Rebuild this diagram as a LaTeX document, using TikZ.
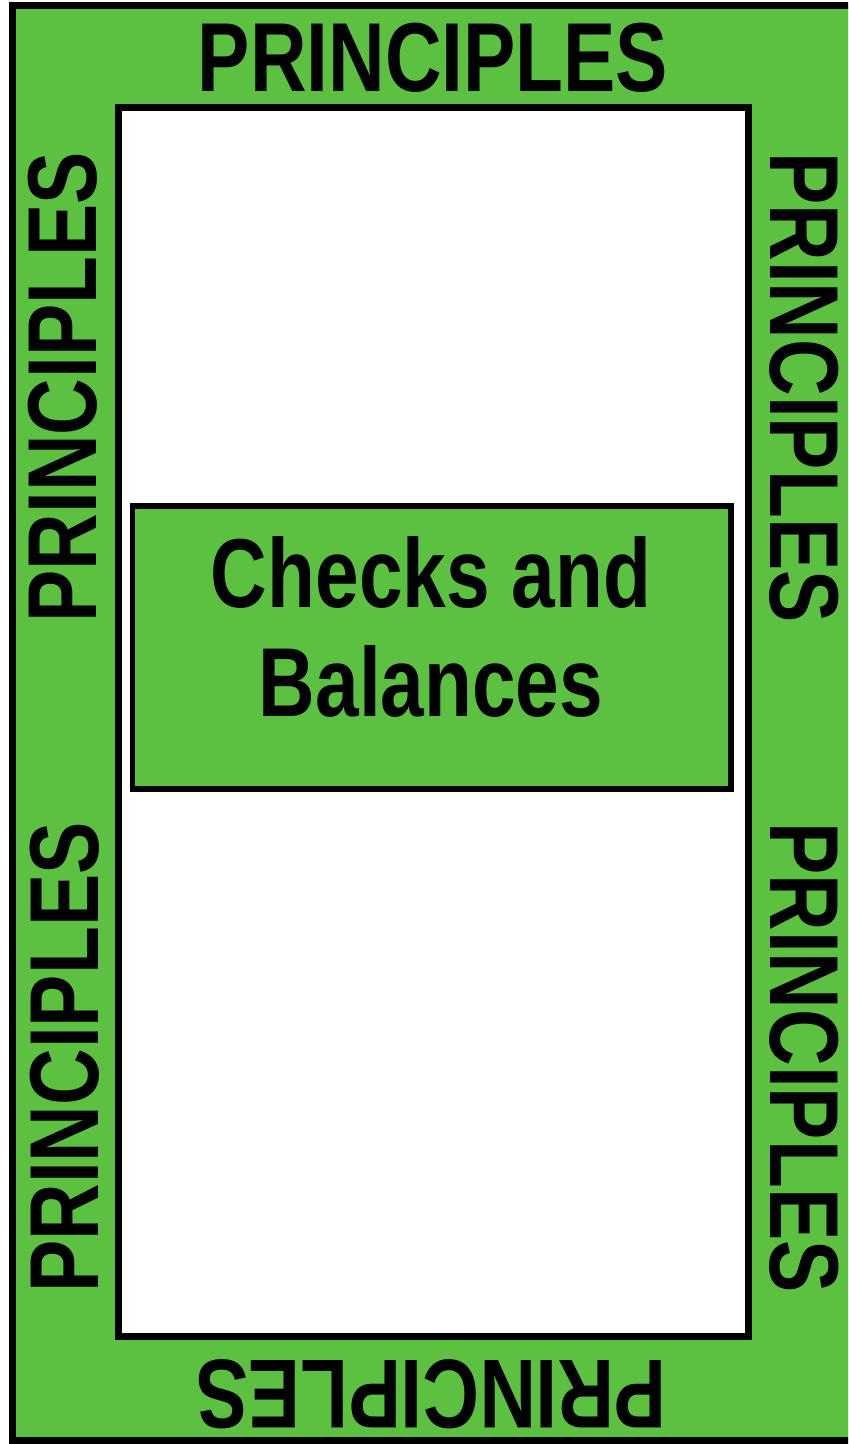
\documentclass[tikz,border=0pt]{standalone}
\usepackage{fontspec}
\setmainfont{Liberation Sans}[FakeStretch=0.8]
\definecolor{leaf}{RGB}{92,193,65}
\begin{document}
\begin{tikzpicture}[x=1bp,y=-1bp,
  frame/.style={draw=black,line width=#1},
  word/.style={inner sep=0pt,anchor=base,font=\fontsize{98bp}{109bp}\selectfont\bfseries}]
\useasboundingbox (0,0) rectangle (848,1444);
\clip (0,0) rectangle (848,1444);
% outer green band
\path[frame=7bp,fill=leaf] (12.5,5.3) rectangle (860,1440);
% inner white field
\path[frame=6.5bp,fill=white] (118.3,107.3) rectangle (748.3,1336.7);
% central box
\node[frame=5.5bp,fill=leaf,minimum width=598.5bp,minimum height=283bp,inner sep=0pt]
  (box) at (431.75,647.5) {};
\node[inner sep=0pt,align=center,font=\fontsize{98bp}{109bp}\selectfont\bfseries]
  (cb) at (431,627) {Checks and\\Balances};
% the word repeated around the band
\node[word] (top) at (433,91.7) {PRINCIPLES};
\node[word,rotate=180] (bottom) at (431.5,1360) {PRINCIPLES};
\node[word,rotate=90] (left1) at (96.7,387.3) {PRINCIPLES};
\node[word,rotate=90] (left2) at (98,1057.5) {PRINCIPLES};
\node[word,rotate=-90] (right1) at (770,387.5) {PRINCIPLES};
\node[word,rotate=-90] (right2) at (770,1057.5) {PRINCIPLES};
\end{tikzpicture}
\end{document}
